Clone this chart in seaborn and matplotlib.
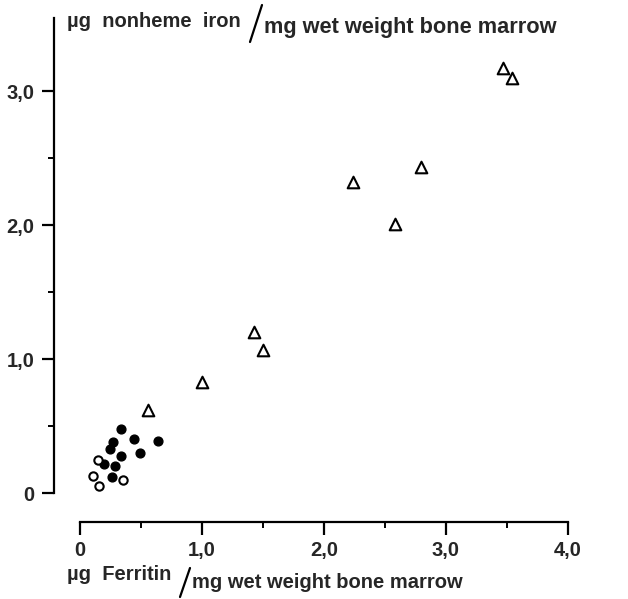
import matplotlib
matplotlib.use("Agg")
import matplotlib.pyplot as plt
import seaborn as sns
import pandas as pd
from matplotlib.lines import Line2D
from matplotlib.ticker import MultipleLocator, FuncFormatter

# values
tri_ferritin = [3.47, 3.54, 2.80, 2.24, 2.58, 1.43, 1.50, 1.00, 0.56]
tri_iron = [3.17, 3.10, 2.43, 2.32, 2.01, 1.20, 1.07, 0.83, 0.62]

filled_ferritin = [0.34, 0.44, 0.64, 0.27, 0.25, 0.34, 0.49, 0.20, 0.29, 0.26]
filled_iron = [0.48, 0.40, 0.39, 0.38, 0.33, 0.28, 0.30, 0.22, 0.20, 0.12]

open_ferritin = [0.15, 0.11, 0.16, 0.35]
open_iron = [0.25, 0.13, 0.05, 0.10]

tri = pd.DataFrame({"ferritin": tri_ferritin, "iron": tri_iron})
filled = pd.DataFrame({"ferritin": filled_ferritin, "iron": filled_iron})
opn = pd.DataFrame({"ferritin": open_ferritin, "iron": open_iron})

sns.set_style("white")
plt.rcParams["font.family"] = ["Liberation Sans", "DejaVu Sans"]

W, H = 628, 599
fig = plt.figure(figsize=(6.28, 5.99), dpi=100)
ax = fig.add_axes([54 / W, 77 / H, 526 / W, 504 / H])

sns.scatterplot(data=tri, x="ferritin", y="iron", marker="^", s=70,
                facecolor="white", edgecolor="black", linewidth=1.5, ax=ax)
sns.scatterplot(data=filled, x="ferritin", y="iron", marker="o", s=40,
                color="black", edgecolor="black", linewidth=1.0, ax=ax)
sns.scatterplot(data=opn, x="ferritin", y="iron", marker="o", s=36,
                facecolor="white", edgecolor="black", linewidth=1.5, ax=ax)

ax.set_xlim(-0.213, 4.1)
ax.set_ylim(-0.216, 3.545)

# detached axes, as in the original drawing
for side in ["top", "right"]:
    ax.spines[side].set_visible(False)
ax.spines["left"].set_bounds(0, 3.545)
ax.spines["bottom"].set_bounds(0, 4.0)
ax.spines["left"].set_position(("data", -0.213))
ax.spines["bottom"].set_position(("data", -0.216))
for side in ["left", "bottom"]:
    ax.spines[side].set_linewidth(1.6)
    ax.spines[side].set_color("black")

ax.xaxis.set_major_locator(MultipleLocator(1.0))
ax.xaxis.set_minor_locator(MultipleLocator(0.5))
ax.set_yticks([0, 1, 2, 3])
ax.set_yticks([0.5, 1.5, 2.5], minor=True)

fmt = FuncFormatter(lambda v, p: "0" if v == 0 else f"{v:.1f}".replace(".", ","))
ax.xaxis.set_major_formatter(fmt)
ax.yaxis.set_major_formatter(fmt)

ax.tick_params(which="major", direction="out", length=9, width=1.6,
               labelsize=14.5, color="black", pad=5)
ax.tick_params(which="minor", direction="out", length=4.5, width=1.4, color="black")
ax.tick_params(axis="x", which="both", bottom=True)
ax.tick_params(axis="y", which="both", left=True)
for lab in ax.get_xticklabels() + ax.get_yticklabels():
    lab.set_fontweight("bold")
ax.set_xlabel("")
ax.set_ylabel("")

# axis titles written as fractions with a slanted stroke
fig.text(67 / W, 1 - 27 / H, "\u00b5g  nonheme  iron", fontsize=14.5, fontweight="bold", va="baseline")
fig.add_artist(Line2D([250 / W, 262 / W], [1 - 42 / H, 1 - 5 / H], color="black", lw=1.6))
fig.text(264 / W, 1 - 33 / H, "mg wet weight bone marrow", fontsize=15.7, fontweight="bold", va="baseline")

fig.text(67 / W, 1 - 580 / H, "\u00b5g  Ferritin", fontsize=14.5, fontweight="bold", va="baseline")
fig.add_artist(Line2D([180 / W, 190 / W], [1 - 597 / H, 1 - 568 / H], color="black", lw=1.6))
fig.text(192 / W, 1 - 588 / H, "mg wet weight bone marrow", fontsize=14.5, fontweight="bold", va="baseline")

fig.savefig("out.png", dpi=100)
